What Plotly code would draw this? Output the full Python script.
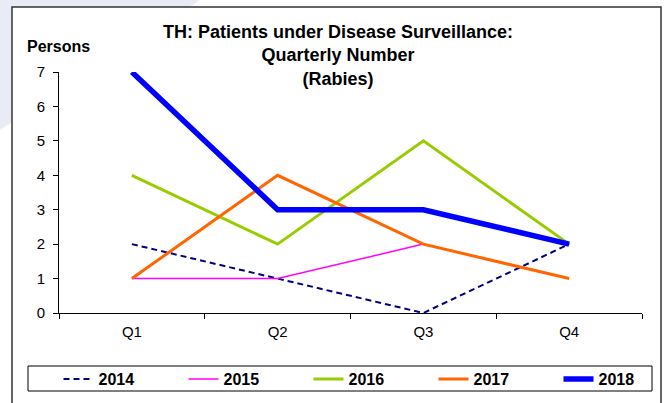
import plotly.graph_objects as go

quarters = ["Q1", "Q2", "Q3", "Q4"]
y2014 = [2, 1, 0, 2]
y2015 = [1, 1, 2, 1]
y2016 = [4, 2, 5, 2]
y2017 = [1, 4, 2, 1]
y2018 = [7, 3, 3, 2]

series = [
    ("2014", y2014, "#000080", 2, "6px,4px"),
    ("2015", y2015, "#FF00FF", 1.5, "solid"),
    ("2016", y2016, "#99CC00", 3, "solid"),
    ("2017", y2017, "#FF6600", 3, "solid"),
    ("2018", y2018, "#0000FF", 5.5, "solid"),
]

FONT = "Liberation Sans, Arial, sans-serif"
W, H = 668, 403

fig = go.Figure()
for name, vals, color, width, dash in series:
    fig.add_trace(go.Scatter(
        x=quarters, y=vals, name=name, mode="lines",
        line=dict(color=color, width=width, dash=dash),
    ))

# pixel -> paper helpers (plot area: x 59..642, y 72..313)
L, R, T, B = 59, 642, 72, 313
def px(x):
    return (x - L) / (R - L)
def py(y):
    return (B - y) / (B - T)

shapes = [
    dict(type="path", xref="paper", yref="paper", layer="below",
         path=f"M {px(0)} {py(0)} L {px(200)} {py(0)} L {px(0)} {py(130)} Z",
         fillcolor="#e9ebf5", line=dict(width=0)),
    dict(type="rect", xref="paper", yref="paper", layer="below",
         x0=px(12), x1=px(661), y0=py(7), y1=py(420),
         fillcolor="white", line=dict(color="#333333", width=1.5)),
    # legend frame
    dict(type="rect", xref="paper", yref="paper", layer="below",
         x0=px(28), x1=px(652), y0=py(366), y1=py(391),
         fillcolor="white", line=dict(color="black", width=1)),
]

fig.update_layout(
    width=W, height=H,
    margin=dict(l=L, r=W - R, t=T, b=H - B, autoexpand=False),
    paper_bgcolor="white", plot_bgcolor="white",
    font=dict(family=FONT, color="black", size=15),
    title=dict(
        text="TH: Patients under Disease Surveillance:<br>Quarterly Number<br>(Rabies)",
        x=338 / W, xref="container", xanchor="center",
        y=1 - 38 / H, yref="container", yanchor="top",
        font=dict(family=FONT, size=18, weight="bold", color="black"),
    ),
    xaxis=dict(
        type="category", range=[-0.5, 3.5], automargin=False,
        showline=True, linecolor="black", linewidth=1,
        ticks="outside", tickson="boundaries", ticklen=5, tickcolor="black",
        showgrid=False, zeroline=False, ticklabelstandoff=5,
        tickfont=dict(size=15),
    ),
    yaxis=dict(
        range=[0, 7], dtick=1, automargin=False,
        showline=True, linecolor="black", linewidth=1,
        ticks="outside", ticklen=5, tickcolor="black",
        showgrid=False, zeroline=False, ticklabelstandoff=5,
        tickfont=dict(size=15),
    ),
    legend=dict(
        orientation="h", xref="paper", yref="paper",
        x=px(58.5), xanchor="left", y=py(379), yanchor="middle",
        borderwidth=0, bgcolor="rgba(0,0,0,0)",
        entrywidth=80, entrywidthmode="pixels",
        font=dict(family=FONT, size=16, weight="bold"),
        traceorder="normal",
    ),
    shapes=shapes,
    annotations=[dict(
        text="<b>Persons</b>", xref="paper", yref="paper",
        x=px(58), y=py(47), xanchor="center", yanchor="middle",
        showarrow=False, font=dict(family=FONT, size=16, color="black"),
    )],
)

fig.write_html("out.html", post_script="document.body.style.margin='0';",
               config={"displayModeBar": False})
